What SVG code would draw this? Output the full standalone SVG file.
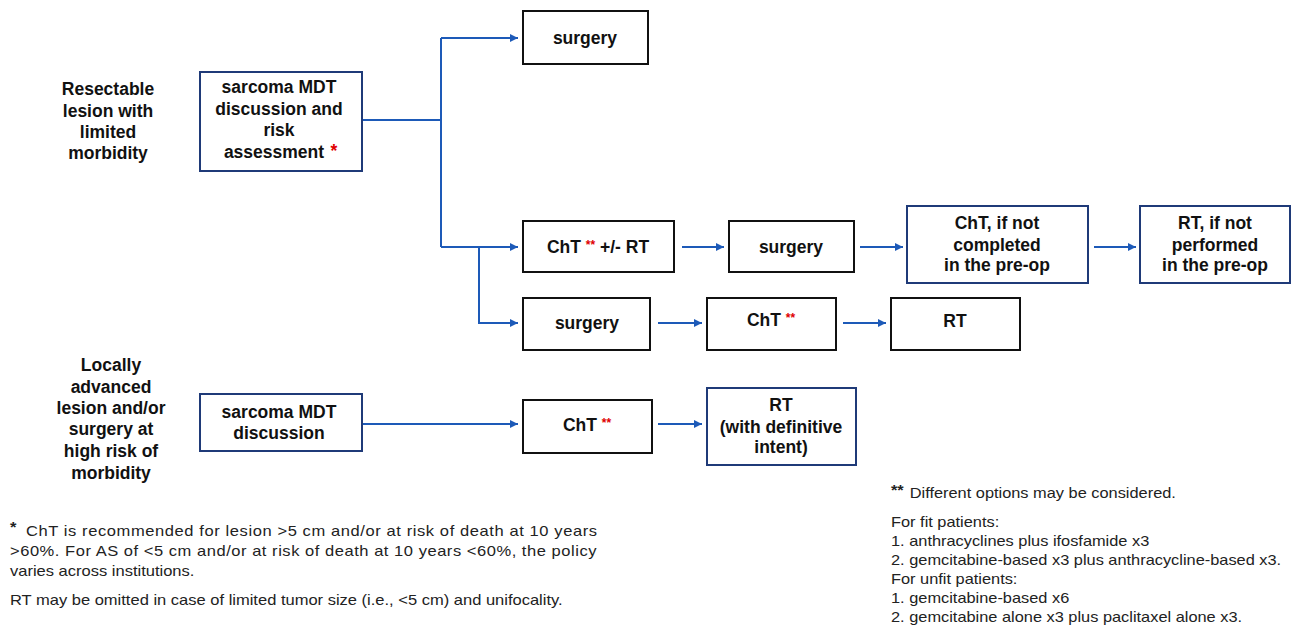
<svg xmlns="http://www.w3.org/2000/svg" width="1295" height="630" viewBox="0 0 1295 630">
<style>
.bx{fill:#fff;stroke:#111;stroke-width:2}
.nv{fill:#fff;stroke:#1f3a78;stroke-width:2}
.t{font-family:"Liberation Sans",Arial,sans-serif;font-weight:bold;font-size:17.5px;fill:#111;text-anchor:middle}
.r{fill:#e00000}
.f{font-family:"Liberation Sans",Arial,sans-serif;font-size:14px;fill:#222}
.c{fill:none;stroke:#1d5ab8;stroke-width:2}
</style>
<defs>
<marker id="ah" markerUnits="userSpaceOnUse" markerWidth="9" markerHeight="9" refX="8" refY="4.5" orient="auto">
<path d="M0,0.5 L8,4.5 L0,8.5 z" fill="#1d5ab8"/>
</marker>
</defs>

<g id="label-resectable">
<text class="t" x="108" y="95">Resectable</text>
<text class="t" x="108" y="117">lesion with</text>
<text class="t" x="108" y="138">limited</text>
<text class="t" x="108" y="159">morbidity</text>
</g>
<g id="label-locally">
<text class="t" x="111" y="371">Locally</text>
<text class="t" x="111" y="393">advanced</text>
<text class="t" x="111" y="414">lesion and/or</text>
<text class="t" x="111" y="435">surgery at</text>
<text class="t" x="111" y="457">high risk of</text>
<text class="t" x="111" y="479">morbidity</text>
</g>

<g id="connectors">
<path class="c" d="M362,120 H441"/>
<path class="c" d="M441,38 V247"/>
<path class="c" d="M441,38 H518" marker-end="url(#ah)"/>
<path class="c" d="M441,247 H518" marker-end="url(#ah)"/>
<path class="c" d="M479,247 V323 H518" marker-end="url(#ah)"/>
<path class="c" d="M682,247 H724" marker-end="url(#ah)"/>
<path class="c" d="M860,247 H903" marker-end="url(#ah)"/>
<path class="c" d="M1094,247 H1136" marker-end="url(#ah)"/>
<path class="c" d="M658,323 H702" marker-end="url(#ah)"/>
<path class="c" d="M843,323 H886" marker-end="url(#ah)"/>
<path class="c" d="M362,424 H518" marker-end="url(#ah)"/>
<path class="c" d="M658,424 H702" marker-end="url(#ah)"/>
</g>

<g id="mdt1">
<rect class="nv" x="200" y="72" width="162" height="99"/>
<text class="t" x="279" y="93">sarcoma MDT</text>
<text class="t" x="279" y="115">discussion and</text>
<text class="t" x="279" y="136">risk</text>
<text class="t" x="274" y="158">assessment</text>
<text class="t r" x="334" y="157" font-size="13">*</text>
</g>
<g id="surgery1">
<rect class="bx" x="523" y="11" width="125" height="53"/>
<text class="t" x="585" y="44">surgery</text>
</g>
<g id="cht-rt">
<rect class="bx" x="523" y="221" width="151" height="51"/>
<text class="t" x="598" y="253">ChT <tspan class="r" font-size="12" dy="-4">**</tspan><tspan dy="4"> +/- RT</tspan></text>
</g>
<g id="surgery2">
<rect class="bx" x="729" y="221" width="125" height="51"/>
<text class="t" x="791" y="253">surgery</text>
</g>
<g id="cht-ifnot">
<rect class="nv" x="907" y="206" width="181" height="77"/>
<text class="t" x="997" y="229">ChT, if not</text>
<text class="t" x="997" y="251">completed</text>
<text class="t" x="997" y="271">in the pre-op</text>
</g>
<g id="rt-ifnot">
<rect class="nv" x="1140" y="206" width="150" height="77"/>
<text class="t" x="1215" y="229">RT, if not</text>
<text class="t" x="1215" y="251">performed</text>
<text class="t" x="1215" y="271">in the pre-op</text>
</g>
<g id="surgery3">
<rect class="bx" x="523" y="298" width="127" height="52"/>
<text class="t" x="587" y="329">surgery</text>
</g>
<g id="cht2">
<rect class="bx" x="707" y="298" width="129" height="52"/>
<text class="t" x="771" y="326">ChT <tspan class="r" font-size="12" dy="-4">**</tspan></text>
</g>
<g id="rt">
<rect class="bx" x="891" y="298" width="129" height="52"/>
<text class="t" x="955" y="327">RT</text>
</g>
<g id="mdt2">
<rect class="nv" x="200" y="394" width="162" height="57"/>
<text class="t" x="279" y="418">sarcoma MDT</text>
<text class="t" x="279" y="439">discussion</text>
</g>
<g id="cht3">
<rect class="bx" x="523" y="400" width="129" height="53"/>
<text class="t" x="587" y="431">ChT <tspan class="r" font-size="12" dy="-4">**</tspan></text>
</g>
<g id="rt-def">
<rect class="nv" x="707" y="388" width="149" height="77"/>
<text class="t" x="781" y="411">RT</text>
<text class="t" x="781" y="433">(with definitive</text>
<text class="t" x="781" y="453">intent)</text>
</g>

<g id="footnote-left" transform="matrix(1.18 0 0 1 10 0)">
<text class="f r" x="0" y="532" font-size="14" font-weight="bold">*</text>
<text class="f" x="13.5" y="536" textLength="484" lengthAdjust="spacing">ChT is recommended for lesion &gt;5 cm and/or at risk of death at 10 years</text>
<text class="f" x="0" y="556" textLength="497" lengthAdjust="spacing">&gt;60%. For AS of &lt;5 cm and/or at risk of death at 10 years &lt;60%, the policy</text>
<text class="f" x="0" y="576">varies across institutions.</text>
<text class="f" x="0" y="605">RT may be omitted in case of limited tumor size (i.e., &lt;5 cm) and unifocality.</text>
</g>
<g id="footnote-right" transform="matrix(1.17 0 0 1 891 0)">
<text class="f r" x="0" y="495" font-size="13" font-weight="bold">**</text>
<text class="f" x="16" y="498">Different options may be considered.</text>
<text class="f" x="0" y="527">For fit patients:</text>
<text class="f" x="0" y="546">1. anthracyclines plus ifosfamide x3</text>
<text class="f" x="0" y="565">2. gemcitabine-based x3 plus anthracycline-based x3.</text>
<text class="f" x="0" y="584">For unfit patients:</text>
<text class="f" x="0" y="603">1. gemcitabine-based x6</text>
<text class="f" x="0" y="622">2. gemcitabine alone x3 plus paclitaxel alone x3.</text>
</g>
</svg>
